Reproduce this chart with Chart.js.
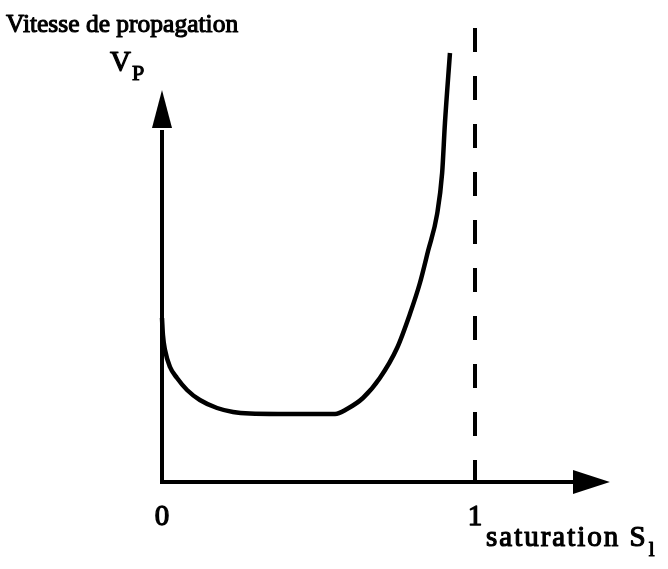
<!DOCTYPE html>
<html>
<head>
<meta charset="utf-8">
<script src="https://cdn.jsdelivr.net/npm/chart.js@4.4.1/dist/chart.umd.min.js"></script>
<style>
  html, body { margin: 0; padding: 0; background: #fff; }
  #wrap { width: 668px; height: 569px; }
</style>
</head>
<body>
<div id="wrap"><canvas id="chart" width="668" height="569"></canvas></div>
<script>
// Vitesse de propagation vs saturation — sketch.
const satValues = [0, 0.003, 0.0096, 0.0256, 0.048, 0.08, 0.121, 0.176, 0.227, 0.281, 0.371, 0.473, 0.553, 0.591, 0.642, 0.696, 0.751, 0.792, 0.824, 0.85, 0.879, 0.895, 0.904, 0.92];
const speedValues = [4.1, 3.675, 3.3, 2.875, 2.6, 2.3, 2.05, 1.85, 1.75, 1.71, 1.7, 1.7, 1.7, 1.825, 2.1, 2.6, 3.35, 4.2, 4.975, 5.775, 6.7, 7.725, 8.975, 10.725];
const asymptoteSat = [1, 1];
const asymptoteSpeed = [11.35, -0.2];
const tickValues = [0, 1];
const tickLabels = ["0", "1"];

const FONT = '"Liberation Serif", "Times New Roman", serif';

// scanned type looks heavy: fill, then a thin stroke on top
function heavyText(ctx, txt, x, y, w) {
  ctx.fillText(txt, x, y);
  ctx.lineWidth = w;
  ctx.strokeText(txt, x, y);
}

const axesPlugin = {
  id: "sketchAxes",
  afterDatasetsDraw(chart) {
    const { ctx, scales: { x, y } } = chart;
    const x0 = x.getPixelForValue(0);
    const y0 = y.getPixelForValue(0);
    const yTip = y.getPixelForValue(9.8), yBase = y.getPixelForValue(8.85);
    const xTip = x.getPixelForValue(1.431), xBase = x.getPixelForValue(1.313);

    ctx.save();
    ctx.strokeStyle = "#000";
    ctx.fillStyle = "#000";
    ctx.lineWidth = 4;
    ctx.lineJoin = "miter";
    ctx.beginPath();
    ctx.moveTo(x0, yBase + 2);
    ctx.lineTo(x0, y0);
    ctx.lineTo(xBase + 2, y0);
    ctx.stroke();

    // arrow heads
    ctx.beginPath();
    ctx.moveTo(x0, yTip);
    ctx.lineTo(x0 - 10, yBase);
    ctx.lineTo(x0 + 10, yBase);
    ctx.closePath();
    ctx.fill();
    ctx.beginPath();
    ctx.moveTo(xTip, y0);
    ctx.lineTo(xBase, y0 - 12);
    ctx.lineTo(xBase, y0 + 12);
    ctx.closePath();
    ctx.fill();

    ctx.lineJoin = "round";
    // tick labels
    ctx.font = "29px " + FONT;
    ctx.textAlign = "center";
    ctx.textBaseline = "alphabetic";
    tickValues.forEach((v, i) => {
      heavyText(ctx, tickLabels[i], x.getPixelForValue(v), y0 + 43, 1.3);
    });

    // axis titles
    ctx.textAlign = "left";
    ctx.font = "25.5px " + FONT;
    heavyText(ctx, "Vitesse de propagation", 6, 32, 1.1);
    ctx.font = "29px " + FONT;
    heavyText(ctx, "V", 110, 71, 1.2);
    ctx.font = "22px " + FONT;
    heavyText(ctx, "P", 132, 80, 1.1);

    ctx.font = "29px " + FONT;
    ctx.letterSpacing = "2px";
    const t = "saturation S";
    heavyText(ctx, t, 486, 546, 1.2);
    const w = ctx.measureText(t).width;
    ctx.letterSpacing = "0px";
    ctx.font = "21px " + FONT;
    heavyText(ctx, "l", 486 + w + 1, 556, 1.1);
    ctx.restore();
  }
};

new Chart(document.getElementById("chart"), {
  type: "scatter",
  data: {
    datasets: [
      {
        label: "Vp",
        data: satValues.map((s, i) => ({ x: s, y: speedValues[i] })),
        showLine: true,
        borderColor: "#000",
        borderWidth: 4.5,
        pointRadius: 0,
        cubicInterpolationMode: "monotone",
        clip: false,
      },
      {
        label: "S = 1",
        data: asymptoteSat.map((s, i) => ({ x: s, y: asymptoteSpeed[i] })),
        showLine: true,
        borderColor: "#000",
        borderWidth: 4,
        borderDash: [24, 24],
        pointRadius: 0,
        clip: false,
      },
    ],
  },
  options: {
    responsive: false,
    animation: false,
    devicePixelRatio: 1,
    layout: { padding: { left: 162, right: 193, top: 82, bottom: 87 } },
    plugins: { legend: { display: false }, tooltip: { enabled: false } },
    scales: {
      x: { type: "linear", min: 0, max: 1, display: false },
      y: { type: "linear", min: 0, max: 10, display: false },
    },
  },
  plugins: [axesPlugin],
});
</script>
</body>
</html>
